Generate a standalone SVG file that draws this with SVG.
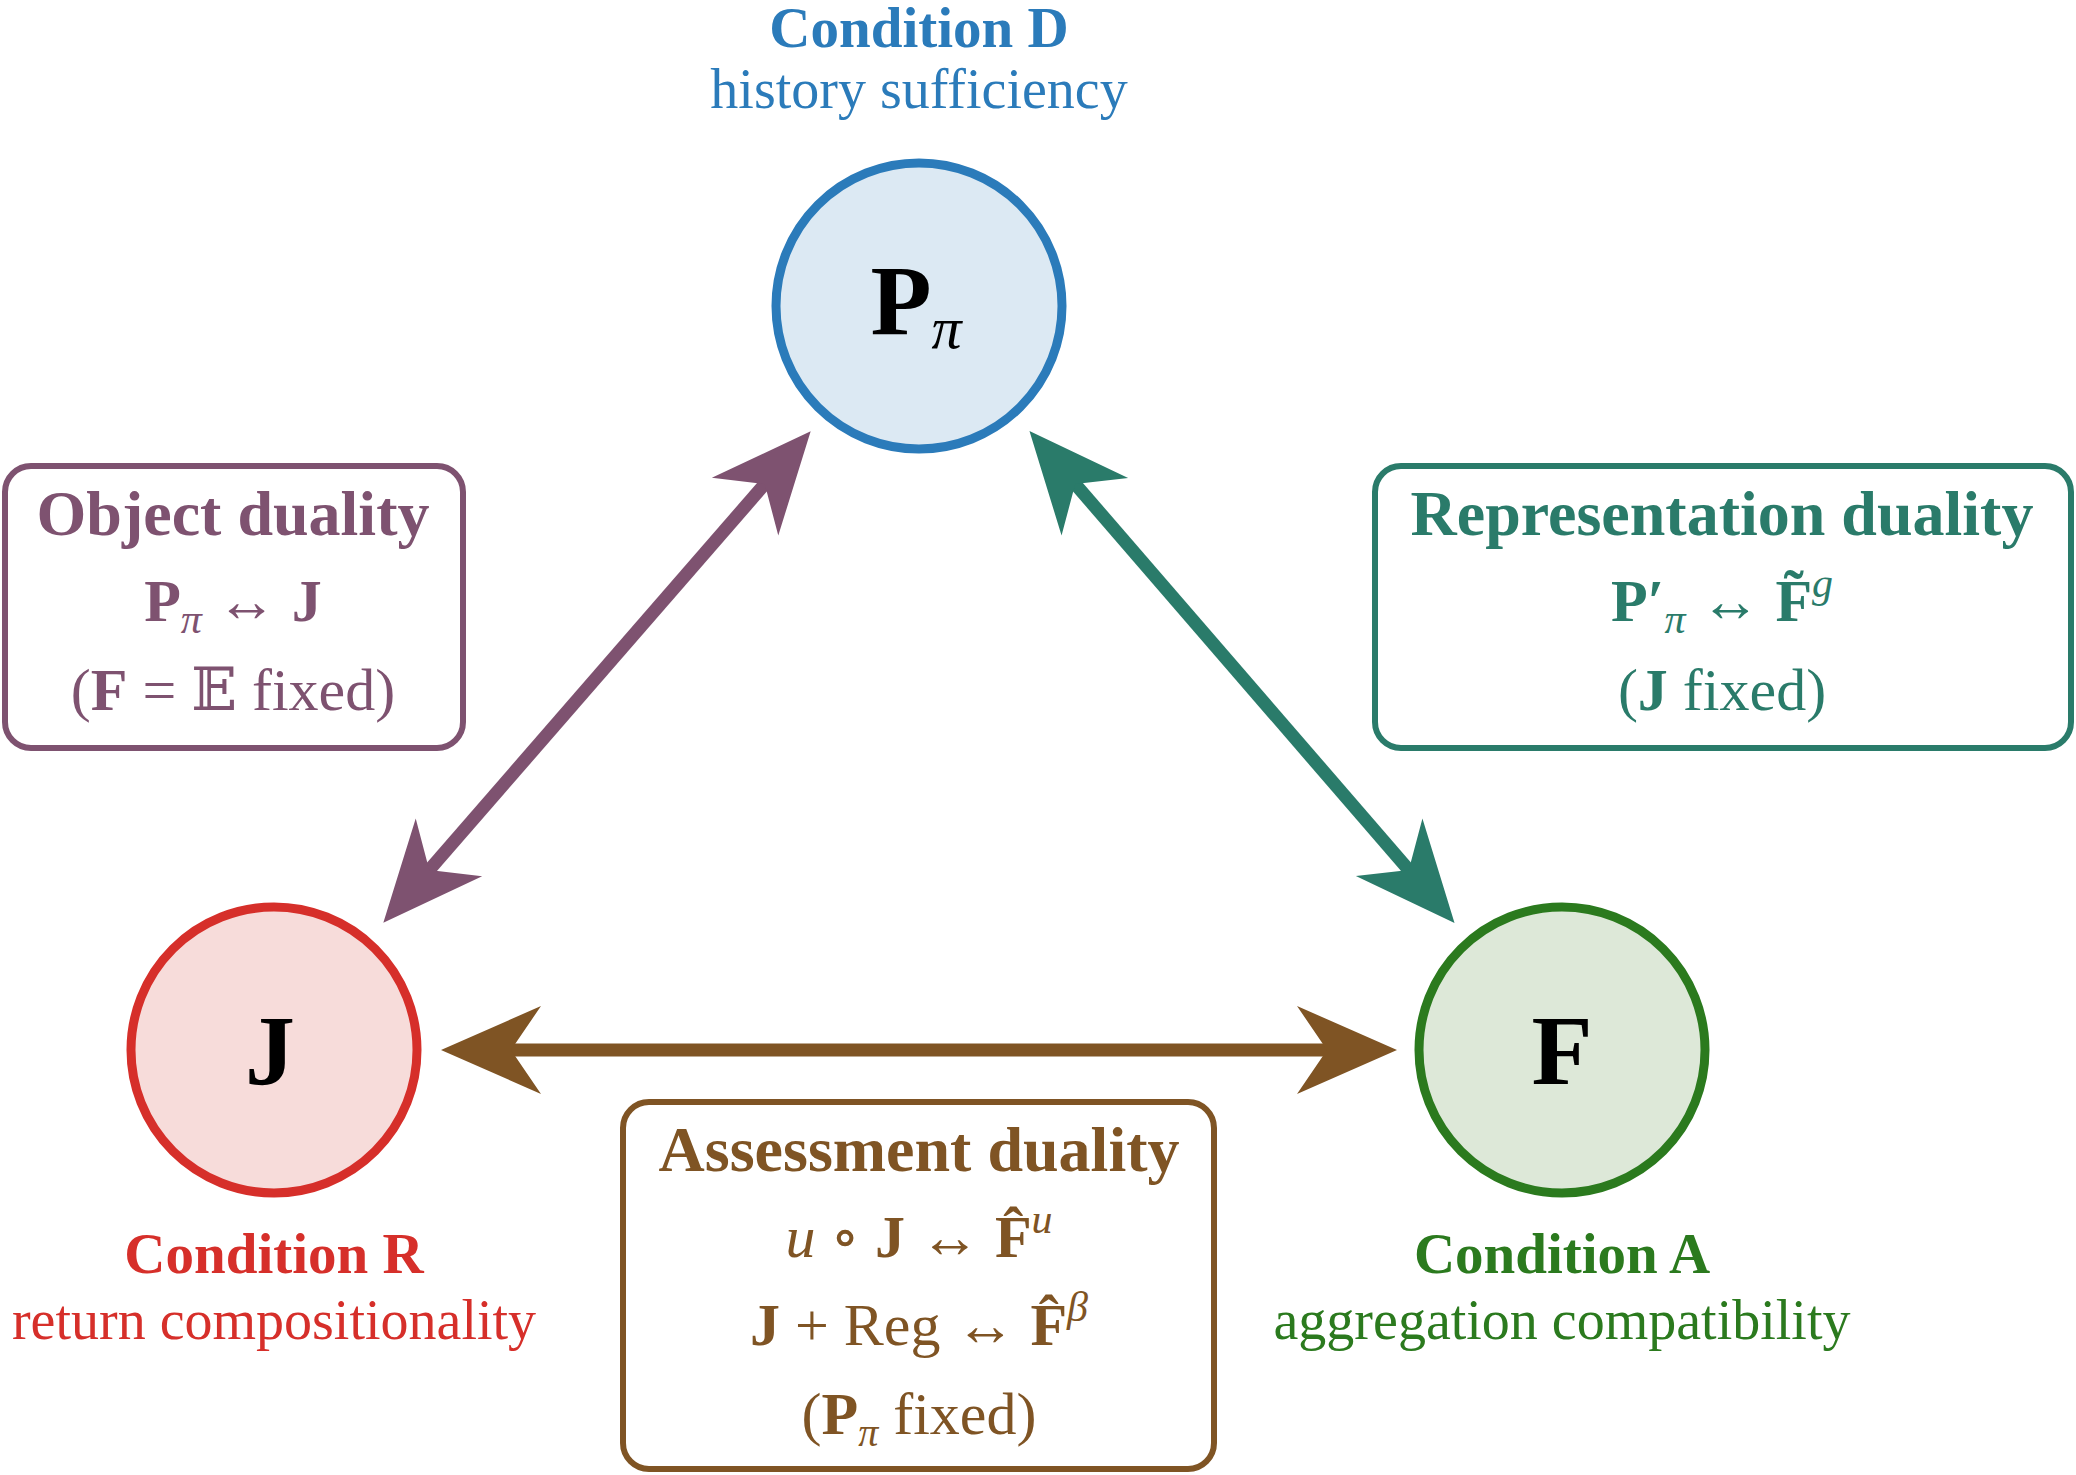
<svg xmlns="http://www.w3.org/2000/svg" width="2076" height="1475" viewBox="0 0 2076 1475">
<style>
text{font-family:"Liberation Serif","DejaVu Serif",serif;text-anchor:middle}
.t{font-weight:bold;font-size:64px}
.c{font-weight:bold;font-size:57px}
.s{font-size:56px}
.m{font-size:60px}
.b{font-weight:bold}
.i{font-style:italic}
.n{font-weight:bold;font-size:100px;fill:#000}
</style>
<defs>
<marker id="aP" markerUnits="userSpaceOnUse" markerWidth="140" markerHeight="100" viewBox="-50 -50 120 100" refX="0" refY="0" orient="auto-start-reverse"><path d="M62,0 L-38,-44 L-8,0 L-38,44 Z" fill="#7e5270"/></marker>
<marker id="aT" markerUnits="userSpaceOnUse" markerWidth="140" markerHeight="100" viewBox="-50 -50 120 100" refX="0" refY="0" orient="auto-start-reverse"><path d="M62,0 L-38,-44 L-8,0 L-38,44 Z" fill="#2a7b6a"/></marker>
<marker id="aB" markerUnits="userSpaceOnUse" markerWidth="140" markerHeight="100" viewBox="-50 -50 120 100" refX="0" refY="0" orient="auto-start-reverse"><path d="M62,0 L-38,-44 L-8,0 L-38,44 Z" fill="#7f5424"/></marker>
</defs>
<g id="connectors" fill="none" stroke-width="13">
<line x1="424" y1="876" x2="770" y2="478" stroke="#7e5270" marker-start="url(#aP)" marker-end="url(#aP)"/>
<line x1="1070" y1="478" x2="1414" y2="876" stroke="#2a7b6a" marker-start="url(#aT)" marker-end="url(#aT)"/>
<line x1="503" y1="1050" x2="1335" y2="1050" stroke="#7f5424" marker-start="url(#aB)" marker-end="url(#aB)"/>
</g>
<g id="nodeP">
<circle cx="919" cy="306" r="143" fill="#dce9f3" stroke="#2b7bba" stroke-width="9"/>
<text x="916" y="334" class="n">P<tspan class="i" font-weight="normal" font-size="60" dy="14">π</tspan></text>
<text x="919" y="47" class="c" fill="#2b7bba">Condition D</text>
<text x="919" y="108" class="s" fill="#2b7bba">history sufficiency</text>
</g>
<g id="nodeJ">
<circle cx="274" cy="1050" r="143" fill="#f7dcda" stroke="#d62f2a" stroke-width="9"/>
<text x="270" y="1084" class="n">J</text>
<text x="274" y="1273" class="c" fill="#d62f2a">Condition R</text>
<text x="274" y="1339" class="s" fill="#d62f2a">return compositionality</text>
</g>
<g id="nodeF">
<circle cx="1562" cy="1050" r="143" fill="#dde8d8" stroke="#2b7a1e" stroke-width="9"/>
<text x="1562" y="1084" class="n">F</text>
<text x="1562" y="1273" class="c" fill="#2b7a1e">Condition A</text>
<text x="1562" y="1339" class="s" fill="#2b7a1e">aggregation compatibility</text>
</g>
<g id="objectDuality" fill="#7e5270">
<rect x="5" y="466" width="458" height="282" rx="26" fill="#fff" stroke="#7e5270" stroke-width="6"/>
<text x="233" y="535" class="t">Object duality</text>
<text x="233" y="621" class="m"><tspan class="b">P</tspan><tspan class="i" font-size="42" dy="12">π</tspan><tspan dy="-12"> ↔ </tspan><tspan class="b">J</tspan></text>
<text x="233" y="710" class="m" font-size="54">(<tspan class="b">F</tspan> = 𝔼 fixed)</text>
</g>
<g id="representationDuality" fill="#2a7b6a">
<rect x="1375" y="466" width="696" height="282" rx="26" fill="#fff" stroke="#2a7b6a" stroke-width="6"/>
<text x="1722" y="535" class="t">Representation duality</text>
<text x="1722" y="621" class="m"><tspan class="b">P′</tspan><tspan class="i" font-size="42" dy="12">π</tspan><tspan dy="-12"> ↔ </tspan><tspan class="b">F̃</tspan><tspan class="i" font-size="42" dy="-24">g</tspan></text>
<text x="1722" y="710" class="m" font-size="54">(<tspan class="b">J</tspan> fixed)</text>
</g>
<g id="assessmentDuality" fill="#7f5424">
<rect x="623" y="1102" width="591" height="367" rx="26" fill="#fff" stroke="#7f5424" stroke-width="6"/>
<text x="919" y="1171" class="t">Assessment duality</text>
<text x="919" y="1257" class="m"><tspan class="i">u</tspan> ∘ <tspan class="b">J</tspan> ↔ <tspan class="b">F̂</tspan><tspan class="i" font-size="42" dy="-24">u</tspan></text>
<text x="919" y="1345" class="m"><tspan class="b">J</tspan> + Reg ↔ <tspan class="b">F̂</tspan><tspan class="i" font-size="42" dy="-24">β</tspan></text>
<text x="919" y="1434" class="m" font-size="54">(<tspan class="b">P</tspan><tspan class="i" font-size="40" dy="12">π</tspan><tspan dy="-12"> fixed)</tspan></text>
</g>
</svg>
